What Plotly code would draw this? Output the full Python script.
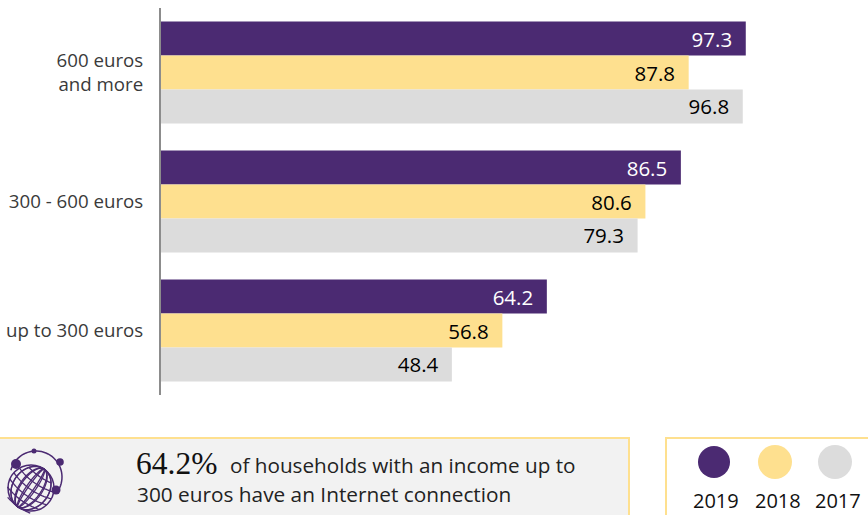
import numpy as np
import plotly.graph_objects as go

W, H = 868, 515
L, R, T, B = 161, 0, 8, 120

incomes = ["600 euros<br>and more", "300 - 600 euros", "up to 300 euros"]
values_2019 = [97.3, 86.5, 64.2]
values_2018 = [87.8, 80.6, 56.8]
values_2017 = [96.8, 79.3, 48.4]

PURPLE = "#4b2a72"
YELLOW = "#fee08f"
GREY = "#dcdcdc"
FONT = "Open Sans"


def px_x(x):
    return (x - L) / (W - L - R)


def px_y(y):
    return 1 - (y - T) / (H - T - B)


def rect(x0, y0, x1, y1, **kw):
    return dict(type="rect", xref="paper", yref="paper", x0=px_x(x0), x1=px_x(x1),
                y0=px_y(y0), y1=px_y(y1), layer="below", **kw)


def circle(cx, cy, r, color, line_width=0, fill=True):
    return dict(type="circle", xref="paper", yref="paper",
                x0=px_x(cx - r), x1=px_x(cx + r), y0=px_y(cy - r), y1=px_y(cy + r),
                fillcolor=color if fill else "rgba(0,0,0,0)",
                line=dict(color=color, width=line_width))


def curve(xs, ys, width=1.3):
    pts = " L ".join(f"{px_x(a):.5f} {px_y(b):.5f}" for a, b in zip(xs, ys))
    return dict(type="path", xref="paper", yref="paper", path="M " + pts,
                line=dict(color=PURPLE, width=width))


def text(x, y, s, size, anchor="left", font=FONT, color="#222222"):
    return dict(xref="paper", yref="paper", x=px_x(x), y=px_y(y), text=s, showarrow=False,
                xanchor=anchor, yanchor="middle", align=anchor, borderpad=0, borderwidth=0,
                font=dict(family=font, size=size, color=color))


fig = go.Figure()
for name, vals, color, tcolor in [
    ("2019", values_2019, PURPLE, "white"),
    ("2018", values_2018, YELLOW, "black"),
    ("2017", values_2017, GREY, "black"),
]:
    fig.add_bar(
        name=name, y=incomes, x=vals, orientation="h", marker=dict(color=color, line_width=0),
        text=[f"{v:.1f}\u00a0\u00a0" for v in vals], textposition="inside",
        insidetextanchor="end", textangle=0, constraintext="none",
        insidetextfont=dict(family=FONT, size=20.5, color=tcolor),
    )

shapes = [
    rect(0, 438, 629, 516, fillcolor="#f2f2f2", line_width=0),
    rect(0, 437, 630, 439, fillcolor=YELLOW, line_width=0),
    rect(628, 437, 630, 516, fillcolor=YELLOW, line_width=0),
    rect(665, 437, 868, 439, fillcolor=YELLOW, line_width=0),
    rect(665, 437, 667, 516, fillcolor=YELLOW, line_width=0),
    circle(714, 462, 16, PURPLE),
    circle(775, 462, 17, YELLOW),
    circle(835, 462, 17, GREY),
]

# globe icon
gx, gy, gr = 31, 488, 23
t = np.linspace(0, 2 * np.pi, 60)
tilt = np.radians(35)
for k in [-0.8, -0.45, -0.12, 0.2, 0.5, 0.8]:
    # meridians
    mx, my = k * gr * np.cos(t), gr * np.sin(t)
    shapes.append(curve(gx + mx * np.cos(tilt) - my * np.sin(tilt), gy + mx * np.sin(tilt) + my * np.cos(tilt)))
    # parallels
    half = np.sqrt(1 - k * k) * gr
    u = np.linspace(-half, half, 20)
    v = k * gr + 0.18 * gr * (1 - (u / gr) ** 2)
    shapes.append(curve(gx + u * np.cos(tilt) - v * np.sin(tilt), gy + u * np.sin(tilt) + v * np.cos(tilt)))
shapes.append(circle(gx, gy, gr, PURPLE, line_width=1.5, fill=False))
arc = np.radians(np.linspace(-165, 35, 40))
shapes.append(curve(36 + 26 * np.cos(arc), 477 + 26 * np.sin(arc), width=1.5))
for cx, cy, r in [(16, 464, 5), (34, 451, 2.5), (60, 462, 3.8), (56, 490, 4.5)]:
    shapes.append(circle(cx, cy, r, PURPLE))

annotations = [
    text(136, 463, "64.2%", 31.5, font="Liberation Serif", color="#111111"),
    text(230, 465, "of households with an income up to", 20.7),
    text(137, 494, "300 euros have an Internet connection", 20.8),
    text(716, 501, "2019", 20, "center", color="#111111"),
    text(778, 501, "2018", 20, "center", color="#111111"),
    text(838, 501, "2017", 20, "center", color="#111111"),
]

fig.update_layout(
    width=W, height=H, margin=dict(l=L, r=R, t=T, b=B, pad=0, autoexpand=False),
    template="plotly_white", plot_bgcolor="white", paper_bgcolor="white",
    barmode="group", bargap=0.21, bargroupgap=0, showlegend=False,
    shapes=shapes, annotations=annotations,
    xaxis=dict(range=[0, (W - L) / 6.01], visible=False, showgrid=False, zeroline=False),
    yaxis=dict(autorange="reversed", showgrid=False, zeroline=False, showline=True,
               linecolor="#8c8c8c", linewidth=2, ticks="", ticklabelstandoff=12,
               tickfont=dict(family=FONT, size=18.7, color="#3a3a3a")),
)

fig.write_html("out.html", config={"displayModeBar": False},
               post_script="document.body.style.margin='0';")
